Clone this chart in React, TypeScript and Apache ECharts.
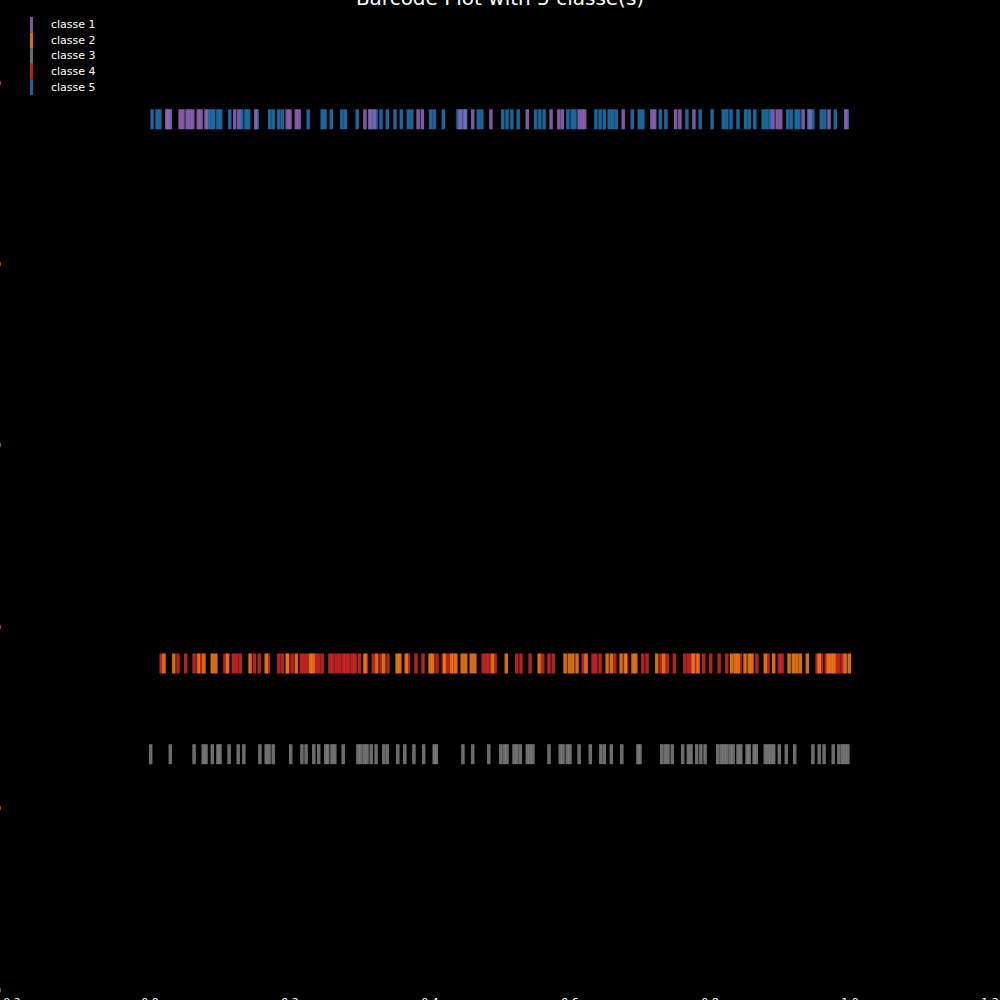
import React, { useEffect, useRef } from "react";
import * as echarts from "echarts";

const classNames = ["classe 1", "classe 2", "classe 3", "classe 4", "classe 5"];
const classColors = ["#9467bd", "#ff7f0e", "#7f7f7f", "#d62728", "#1f77b4"];
const classRows = [0.96, 0.36, 0.26, 0.36, 0.96];

const classe1 = [0.024, 0.026, 0.029, 0.043, 0.047, 0.053, 0.057, 0.061, 0.069, 0.073, 0.080, 0.121, 0.127, 0.151, 0.196, 0.200, 0.209, 0.213, 0.307, 0.314, 0.320, 0.383, 0.389, 0.443, 0.450, 0.461, 0.487, 0.539, 0.573, 0.584, 0.589, 0.613, 0.617, 0.621, 0.676, 0.717, 0.721, 0.751, 0.757, 0.777, 0.890, 0.896, 0.901, 0.933, 0.943, 0.970, 0.994];
const classe2 = [0.020, 0.034, 0.069, 0.077, 0.089, 0.094, 0.111, 0.143, 0.166, 0.196, 0.209, 0.229, 0.233, 0.307, 0.324, 0.334, 0.353, 0.357, 0.366, 0.400, 0.404, 0.421, 0.431, 0.437, 0.446, 0.451, 0.459, 0.464, 0.489, 0.509, 0.556, 0.593, 0.599, 0.604, 0.610, 0.623, 0.653, 0.659, 0.673, 0.679, 0.690, 0.694, 0.724, 0.734, 0.776, 0.783, 0.831, 0.836, 0.840, 0.850, 0.856, 0.860, 0.879, 0.891, 0.913, 0.919, 0.924, 0.929, 0.939, 0.956, 0.969, 0.973, 0.977, 0.993, 0.999];
const classe3 = [0.001, 0.029, 0.063, 0.076, 0.080, 0.089, 0.097, 0.100, 0.113, 0.126, 0.134, 0.157, 0.166, 0.170, 0.176, 0.201, 0.217, 0.223, 0.234, 0.241, 0.251, 0.254, 0.260, 0.264, 0.276, 0.297, 0.301, 0.306, 0.310, 0.316, 0.323, 0.334, 0.339, 0.354, 0.364, 0.377, 0.391, 0.406, 0.409, 0.447, 0.461, 0.484, 0.501, 0.506, 0.510, 0.520, 0.524, 0.529, 0.539, 0.543, 0.547, 0.570, 0.586, 0.590, 0.596, 0.600, 0.613, 0.629, 0.644, 0.649, 0.659, 0.674, 0.697, 0.700, 0.731, 0.736, 0.740, 0.746, 0.761, 0.769, 0.773, 0.781, 0.787, 0.793, 0.811, 0.816, 0.820, 0.824, 0.829, 0.833, 0.840, 0.844, 0.853, 0.856, 0.863, 0.866, 0.879, 0.883, 0.887, 0.891, 0.899, 0.909, 0.921, 0.947, 0.956, 0.963, 0.976, 0.984, 0.989, 0.993, 0.997];
const classe4 = [0.016, 0.040, 0.051, 0.063, 0.073, 0.107, 0.119, 0.124, 0.129, 0.149, 0.156, 0.169, 0.184, 0.189, 0.197, 0.203, 0.216, 0.220, 0.224, 0.237, 0.241, 0.246, 0.257, 0.261, 0.266, 0.271, 0.276, 0.280, 0.284, 0.289, 0.293, 0.299, 0.309, 0.319, 0.330, 0.340, 0.369, 0.380, 0.390, 0.410, 0.419, 0.426, 0.434, 0.476, 0.480, 0.484, 0.493, 0.524, 0.530, 0.543, 0.561, 0.570, 0.576, 0.619, 0.633, 0.637, 0.643, 0.664, 0.681, 0.704, 0.710, 0.730, 0.739, 0.749, 0.764, 0.769, 0.774, 0.780, 0.791, 0.801, 0.813, 0.824, 0.843, 0.867, 0.883, 0.899, 0.903, 0.953, 0.959, 0.966, 0.980, 0.984, 0.989];
const classe5 = [0.003, 0.010, 0.014, 0.083, 0.087, 0.091, 0.097, 0.101, 0.114, 0.131, 0.137, 0.141, 0.153, 0.171, 0.176, 0.184, 0.189, 0.226, 0.246, 0.250, 0.259, 0.274, 0.279, 0.296, 0.316, 0.323, 0.330, 0.339, 0.350, 0.359, 0.369, 0.374, 0.401, 0.406, 0.419, 0.440, 0.446, 0.451, 0.469, 0.474, 0.504, 0.510, 0.517, 0.526, 0.551, 0.557, 0.563, 0.597, 0.603, 0.607, 0.637, 0.643, 0.649, 0.656, 0.661, 0.666, 0.689, 0.699, 0.704, 0.729, 0.737, 0.767, 0.786, 0.803, 0.819, 0.824, 0.830, 0.840, 0.851, 0.856, 0.864, 0.876, 0.881, 0.886, 0.911, 0.916, 0.923, 0.927, 0.941, 0.947, 0.959, 0.964, 0.979, 0.996];

const classValues = [classe1, classe2, classe3, classe4, classe5];
const drawOrder = [4, 0, 3, 1, 2];

export default function App() {
  const ref = useRef<HTMLDivElement>(null);
  useEffect(() => {
    document.body.style.margin = "0";
    document.body.style.background = "#000";
    const chart = echarts.init(ref.current!, null, { renderer: "svg" });
    const series = drawOrder.map((i) => ({
      name: classNames[i],
      type: "scatter",
      symbol: "rect",
      symbolSize: [3.5, 20],
      itemStyle: { color: classColors[i], opacity: 0.85 },
      data: classValues[i].map((v) => [v, classRows[i]]),
      z: 2,
    }));
    chart.setOption({
      animation: false,
      backgroundColor: "#000000",
      title: {
        text: "Barcode Plot with 5 classe(s)",
        left: "center",
        top: -17,
        textStyle: { color: "#ffffff", fontSize: 20, fontWeight: "normal", fontFamily: "DejaVu Sans" },
      },
      legend: {
        data: classNames,
        orient: "vertical",
        left: 25,
        top: 12,
        icon: "rect",
        itemWidth: 3,
        itemHeight: 15.6,
        itemGap: 0,
        textStyle: { color: "#ffffff", fontSize: 11, fontFamily: "DejaVu Sans", padding: [0, 0, 0, 13] },
      },
      grid: { left: 10, right: 10, top: 83, bottom: 10, containLabel: false, outerBoundsMode: "none" },
      xAxis: {
        type: "value",
        min: -0.2,
        max: 1.2,
        interval: 0.2,
        axisLine: { show: false },
        axisTick: { show: false },
        splitLine: { show: false },
        axisLabel: {
          color: "#ffffff",
          fontSize: 11,
          fontFamily: "DejaVu Sans",
          margin: 7,
          formatter: (v: number) => v.toFixed(1),
        },
      },
      yAxis: {
        type: "value",
        min: 0,
        max: 1,
        interval: 0.2,
        axisLine: { show: false },
        axisTick: { show: false },
        splitLine: { show: false },
        axisLabel: {
          color: "#ffffff",
          fontSize: 11,
          fontFamily: "DejaVu Sans",
          margin: 9,
          formatter: (v: number) => v.toFixed(2),
        },
      },
      series,
    });
    return () => chart.dispose();
  }, []);
  return <div ref={ref} style={{ width: 1000, height: 1000, position: "fixed", left: 0, top: 0 }} />;
}
